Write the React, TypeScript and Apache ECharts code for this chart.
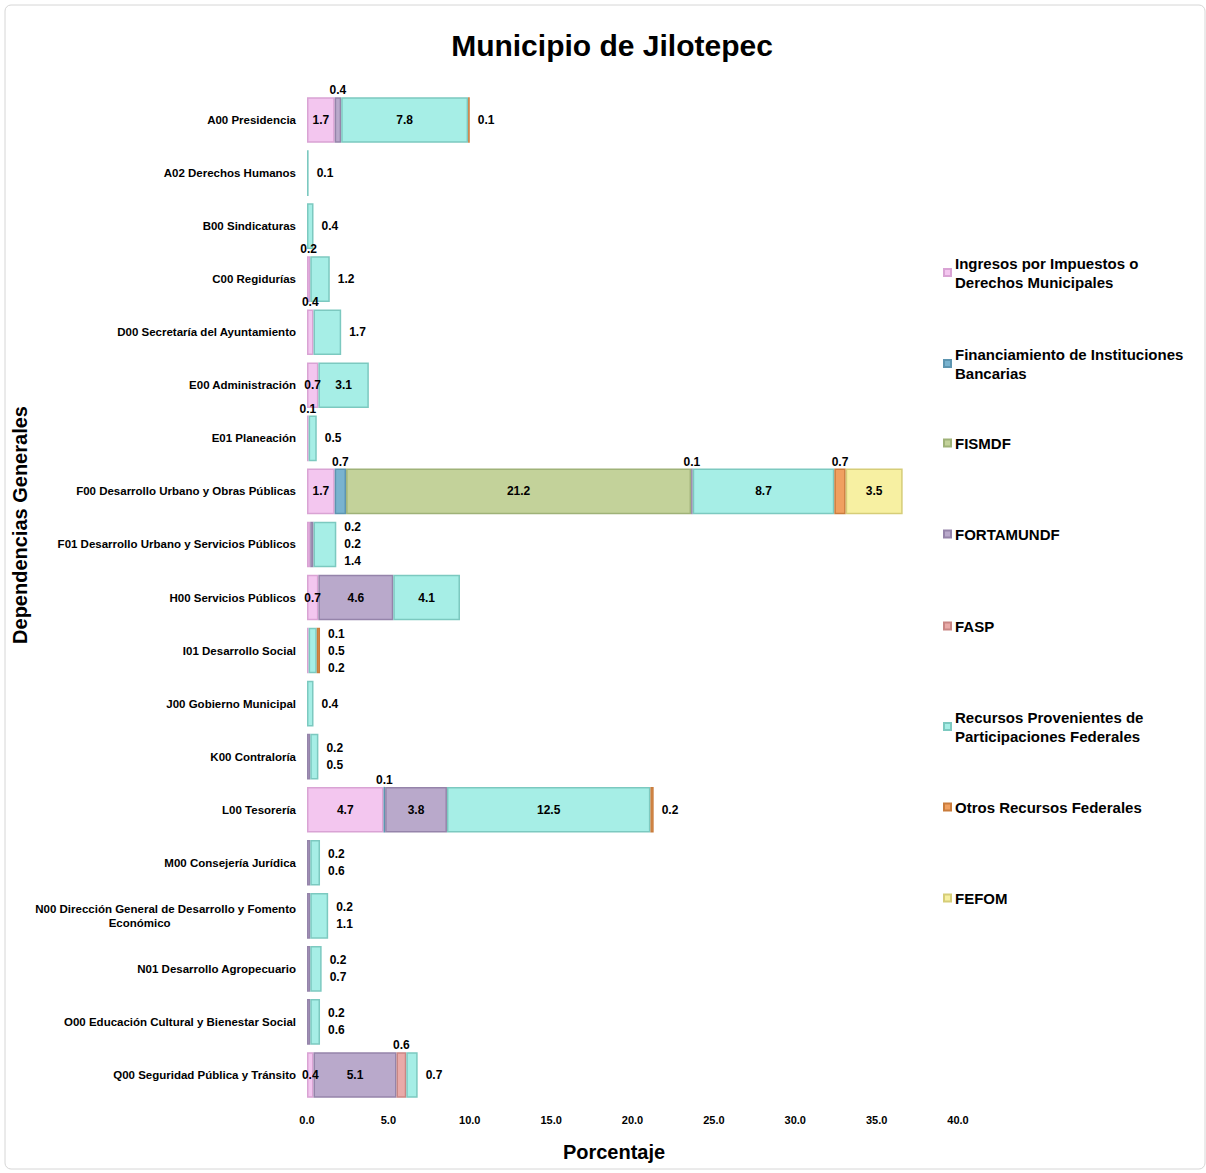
import React, { useEffect, useRef } from "react";
import * as echarts from "echarts";

const categories = [
  "A00 Presidencia",
  "A02 Derechos Humanos",
  "B00 Sindicaturas",
  "C00 Regidurías",
  "D00 Secretaría del Ayuntamiento",
  "E00 Administración",
  "E01 Planeación",
  "F00 Desarrollo Urbano y Obras Públicas",
  "F01 Desarrollo Urbano y Servicios Públicos",
  "H00 Servicios Públicos",
  "I01 Desarrollo Social",
  "J00 Gobierno Municipal",
  "K00 Contraloría",
  "L00 Tesorería",
  "M00 Consejería Jurídica",
  "N00 Dirección General de Desarrollo y Fomento Económico",
  "N01 Desarrollo Agropecuario",
  "O00 Educación Cultural y Bienestar Social",
  "Q00 Seguridad Pública y Tránsito",
];

const seriesNames = [
  "Ingresos por Impuestos o Derechos Municipales",
  "Financiamiento de Instituciones Bancarias",
  "FISMDF",
  "FORTAMUNDF",
  "FASP",
  "Recursos Provenientes de Participaciones Federales",
  "Otros Recursos Federales",
  "FEFOM",
];

const legendLabels = [
  "Ingresos por Impuestos o\nDerechos Municipales",
  "Financiamiento de Instituciones\nBancarias",
  "FISMDF",
  "FORTAMUNDF",
  "FASP",
  "Recursos Provenientes de\nParticipaciones Federales",
  "Otros Recursos Federales",
  "FEFOM",
];

const ingresos = [1.7, 0, 0, 0.2, 0.4, 0.7, 0.1, 1.7, 0.2, 0.7, 0.1, 0, 0, 4.7, 0, 0, 0, 0, 0.4];
const financiamiento = [0, 0, 0, 0, 0, 0, 0, 0.7, 0, 0, 0, 0, 0, 0.1, 0, 0, 0, 0, 0];
const fismdf = [0, 0, 0, 0, 0, 0, 0, 21.2, 0, 0, 0, 0, 0, 0, 0, 0, 0, 0, 0];
const fortamundf = [0.4, 0, 0, 0, 0, 0, 0, 0.1, 0.2, 4.6, 0, 0, 0.2, 3.8, 0.2, 0.2, 0.2, 0.2, 5.1];
const fasp = [0, 0, 0, 0, 0, 0, 0, 0, 0, 0, 0, 0, 0, 0, 0, 0, 0, 0, 0.6];
const participaciones = [7.8, 0.1, 0.4, 1.2, 1.7, 3.1, 0.5, 8.7, 1.4, 4.1, 0.5, 0.4, 0.5, 12.5, 0.6, 1.1, 0.7, 0.6, 0.7];
const otros = [0.1, 0, 0, 0, 0, 0, 0, 0.7, 0, 0, 0.2, 0, 0, 0.2, 0, 0, 0, 0, 0];
const fefom = [0, 0, 0, 0, 0, 0, 0, 3.5, 0, 0, 0, 0, 0, 0, 0, 0, 0, 0, 0];

const xTicks = [0, 5, 10, 15, 20, 25, 30, 35, 40];

const allSeries = [ingresos, financiamiento, fismdf, fortamundf, fasp, participaciones, otros, fefom];

const colors = ["#f3c6ef", "#79b3cf", "#c3d29a", "#b9a9cb", "#e9aaa8", "#a6eee6", "#f0a060", "#f7f0a2"];
const borders = ["#d9a3d4", "#5d95b0", "#9fb278", "#9584aa", "#c98684", "#7cc9c0", "#c97c3c", "#d6cd78"];

const GRID_LEFT = 307;
const GRID_RIGHT_X = 958;
const GRID_TOP = 93.5;
const GRID_BOTTOM_Y = 1101.5;
const W = 1206;
const H = 1173;

const FONT = "'Liberation Sans', Arial, sans-serif";

function buildLabel(r: number, s: number) {
  const segs: { s: number; v: number }[] = [];
  allSeries.forEach((arr, i) => {
    if (arr[r]) segs.push({ s: i, v: arr[r] });
  });
  const total = segs.reduce((a, b) => a + b.v, 0);
  const idx = segs.findIndex((g) => g.s === s);
  const seg = segs[idx];
  const isFirst = idx === 0;
  const isLast = idx === segs.length - 1;
  const base = {
    show: true,
    color: "#000",
    fontWeight: "bold" as const,
    fontSize: 12,
    fontFamily: FONT,
    formatter: (p: any) => Number(p.value).toFixed(1),
  };
  if (total >= 3) {
    if (seg.v >= 1.5 || isFirst) return { ...base, position: "inside" };
    if (isLast) return { ...base, position: "right", distance: 8 };
    return { ...base, position: "top", distance: 1 };
  }
  // small rows
  const topFirst = s === 0 && !isLast && segs.length === 2;
  if (topFirst) return { ...base, position: "top", distance: 1 };
  const stacked = segs.filter((g, i) => !(g.s === 0 && i !== segs.length - 1 && segs.length === 2));
  const k = stacked.length;
  const j = stacked.findIndex((g) => g.s === s);
  let end = 0;
  for (let i = 0; i <= idx; i++) end += segs[i].v;
  const rem = total - end;
  const ppu = (GRID_RIGHT_X - GRID_LEFT) / 40;
  return {
    ...base,
    position: "right",
    distance: 8,
    offset: [rem * ppu, (j - (k - 1) / 2) * 17],
  };
}

export default function App() {
  const ref = useRef<HTMLDivElement>(null);

  useEffect(() => {
    document.body.style.margin = "0";
    if (!ref.current) return;
    const chart = echarts.init(ref.current, null, { renderer: "svg" });

    const series = allSeries.map((arr, s) => ({
      name: seriesNames[s],
      type: "bar",
      stack: "total",
      barWidth: "86%",
      itemStyle: { color: colors[s], borderColor: borders[s], borderWidth: 1.5 },
      data: arr.map((v, r) => (v ? { value: v, label: buildLabel(r, s) } : null)),
    }));

    const legendTops = [253.5, 344.5, 433.5, 524.5, 616.5, 707.5, 797.5, 888.5];

    const option: any = {
      animation: false,
      backgroundColor: "#fff",
      title: {
        text: "Municipio de Jilotepec",
        left: 607,
        top: 25,
        textAlign: "center",
        textStyle: { fontSize: 30, fontWeight: "bold", color: "#000", fontFamily: FONT },
      },
      legend: seriesNames.map((n, i) => ({
        data: [n],
        orient: "vertical",
        left: 943,
        top: legendTops[i],
        itemWidth: 7,
        itemHeight: 7,
        itemGap: 0,
        padding: 0,
        icon: "rect",
        selectedMode: false,
        formatter: () => legendLabels[i],
        textStyle: { fontSize: 15, fontWeight: "bold", color: "#000", fontFamily: FONT, lineHeight: 19, padding: [0, 0, 0, -1] },
      })),
      grid: {
        left: GRID_LEFT,
        right: W - GRID_RIGHT_X,
        top: GRID_TOP,
        bottom: H - GRID_BOTTOM_Y,
        containLabel: false,
      },
      xAxis: {
        type: "value",
        min: xTicks[0],
        max: xTicks[xTicks.length - 1],
        interval: xTicks[1] - xTicks[0],
        axisLine: { show: false },
        axisTick: { show: false },
        splitLine: { show: false },
        axisLabel: {
          formatter: (v: number) => v.toFixed(1),
          color: "#000",
          fontWeight: "bold",
          fontSize: 11,
          fontFamily: FONT,
          margin: 13,
        },
      },
      yAxis: {
        type: "category",
        inverse: true,
        data: categories,
        axisLine: { show: false },
        axisTick: { show: false },
        axisLabel: {
          color: "#000",
          fontWeight: "bold",
          fontSize: 11.5,
          fontFamily: FONT,
          margin: 11,
          align: "right",
          lineHeight: 14,
          formatter: (v: string) => {
            if (v.length <= 45) return v;
            const cut = v.lastIndexOf(" ", 45);
            const a = v.slice(0, cut);
            const b = v.slice(cut + 1);
            return a + "\n{c|" + b + "}";
          },
          rich: {
            c: { color: "#000", fontWeight: "bold", fontSize: 11.5, fontFamily: FONT, width: 0, align: "center", padding: [0, 52, 0, 0] },
          },
        },
      },
      graphic: [
        {
          type: "rect",
          shape: { x: 5, y: 5, width: 1200, height: 1164, r: 6 },
          style: { fill: "none", stroke: "#d6d6d6", lineWidth: 1 },
          silent: true,
          z: -10,
        },
        {
          type: "text",
          x: 20,
          y: 525,
          rotation: Math.PI / 2,
          style: {
            text: "Dependencias Generales",
            fontSize: 20,
            fontWeight: "bold",
            fill: "#000",
            fontFamily: FONT,
            textAlign: "center",
            textVerticalAlign: "middle",
          },
        },
        {
          type: "text",
          x: 614,
          y: 1152,
          style: {
            text: "Porcentaje",
            fontSize: 20,
            fontWeight: "bold",
            fill: "#000",
            fontFamily: FONT,
            textAlign: "center",
            textVerticalAlign: "middle",
          },
        },
      ],
      series,
    };

    chart.setOption(option);
    return () => chart.dispose();
  }, []);

  return <div ref={ref} style={{ width: W, height: H }} />;
}
